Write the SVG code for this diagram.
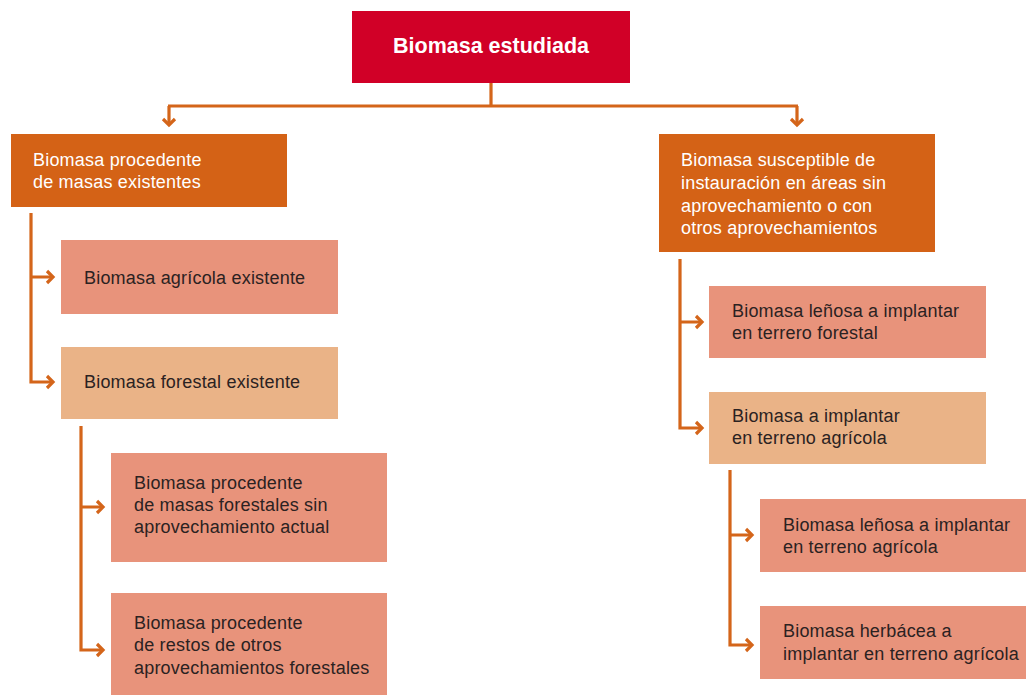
<svg xmlns="http://www.w3.org/2000/svg" width="1026" height="695" viewBox="0 0 1026 695">
<style>
.t{font-family:"Liberation Sans",Arial,sans-serif;font-size:18px;letter-spacing:0.2px;fill:#2b2222}
.w{fill:#fff}
.or{fill:#d46216}
.sa{fill:#e8937b}
.pe{fill:#eab387}
.ln{fill:none;stroke:#d4651a;stroke-width:3.2}
.ah{fill:none;stroke:#d4651a;stroke-width:3.2;stroke-linejoin:miter}
</style>
<rect width="1026" height="695" fill="#fff"/>
<g id="connectors">
<path class="ln" d="M491 83V106M168 106H798M169 106V124M797 106V124"/>
<path class="ah" d="M163 119l6 6l6-6M791 119l6 6l6-6"/>
<path class="ln" d="M31 213V382H52M31 277H52"/>
<path class="ah" d="M47 271l6 6l-6 6M47 376l6 6l-6 6"/>
<path class="ln" d="M81 426V650H102M81 507H102"/>
<path class="ah" d="M97 501l6 6l-6 6M97 644l6 6l-6 6"/>
<path class="ln" d="M680 259V428H701M680 322H701"/>
<path class="ah" d="M696 316l6 6l-6 6M696 422l6 6l-6 6"/>
<path class="ln" d="M730 470V645H751M730 535H751"/>
<path class="ah" d="M746 529l6 6l-6 6M746 639l6 6l-6 6"/>
</g>
<g id="root">
<rect x="352" y="11" width="278" height="72" fill="#d10027"/>
<text x="491" y="53" text-anchor="middle" class="t w" style="font-weight:bold;font-size:21.5px;letter-spacing:0">Biomasa estudiada</text>
</g>
<g id="existentes">
<rect x="11" y="134" width="276" height="73" class="or"/>
<text class="t w" x="33" y="166">Biomasa procedente<tspan x="33" y="188">de masas existentes</tspan></text>
</g>
<g id="agricola-existente">
<rect x="61" y="240" width="277" height="74" class="sa"/>
<text class="t" x="84" y="284">Biomasa agrícola existente</text>
</g>
<g id="forestal-existente">
<rect x="61" y="347" width="277" height="72" class="pe"/>
<text class="t" x="84" y="388">Biomasa forestal existente</text>
</g>
<g id="sin-aprovechamiento">
<rect x="111" y="453" width="276" height="109" class="sa"/>
<text class="t" x="134" y="489">Biomasa procedente<tspan x="134" y="511">de masas forestales sin</tspan><tspan x="134" y="533">aprovechamiento actual</tspan></text>
</g>
<g id="restos">
<rect x="111" y="593" width="276" height="102" class="sa"/>
<text class="t" x="134" y="629">Biomasa procedente<tspan x="134" y="651">de restos de otros</tspan><tspan x="134" y="674">aprovechamientos forestales</tspan></text>
</g>
<g id="susceptible">
<rect x="659" y="134" width="276" height="118" class="or"/>
<text class="t w" x="681" y="166">Biomasa susceptible de<tspan x="681" y="189">instauración en áreas sin</tspan><tspan x="681" y="212">aprovechamiento o con</tspan><tspan x="681" y="234">otros aprovechamientos</tspan></text>
</g>
<g id="lenosa-forestal">
<rect x="709" y="286" width="277" height="72" class="sa"/>
<text class="t" x="732" y="317">Biomasa leñosa a implantar<tspan x="732" y="339">en terrero forestal</tspan></text>
</g>
<g id="implantar-agricola">
<rect x="709" y="392" width="277" height="72" class="pe"/>
<text class="t" x="732" y="422">Biomasa a implantar<tspan x="732" y="444">en terreno agrícola</tspan></text>
</g>
<g id="lenosa-agricola">
<rect x="760" y="499" width="266" height="73" class="sa"/>
<text class="t" x="783" y="531">Biomasa leñosa a implantar<tspan x="783" y="553">en terreno agrícola</tspan></text>
</g>
<g id="herbacea-agricola">
<rect x="760" y="606" width="266" height="73" class="sa"/>
<text class="t" x="783" y="637">Biomasa herbácea a<tspan x="783" y="660">implantar en terreno agrícola</tspan></text>
</g>
</svg>
